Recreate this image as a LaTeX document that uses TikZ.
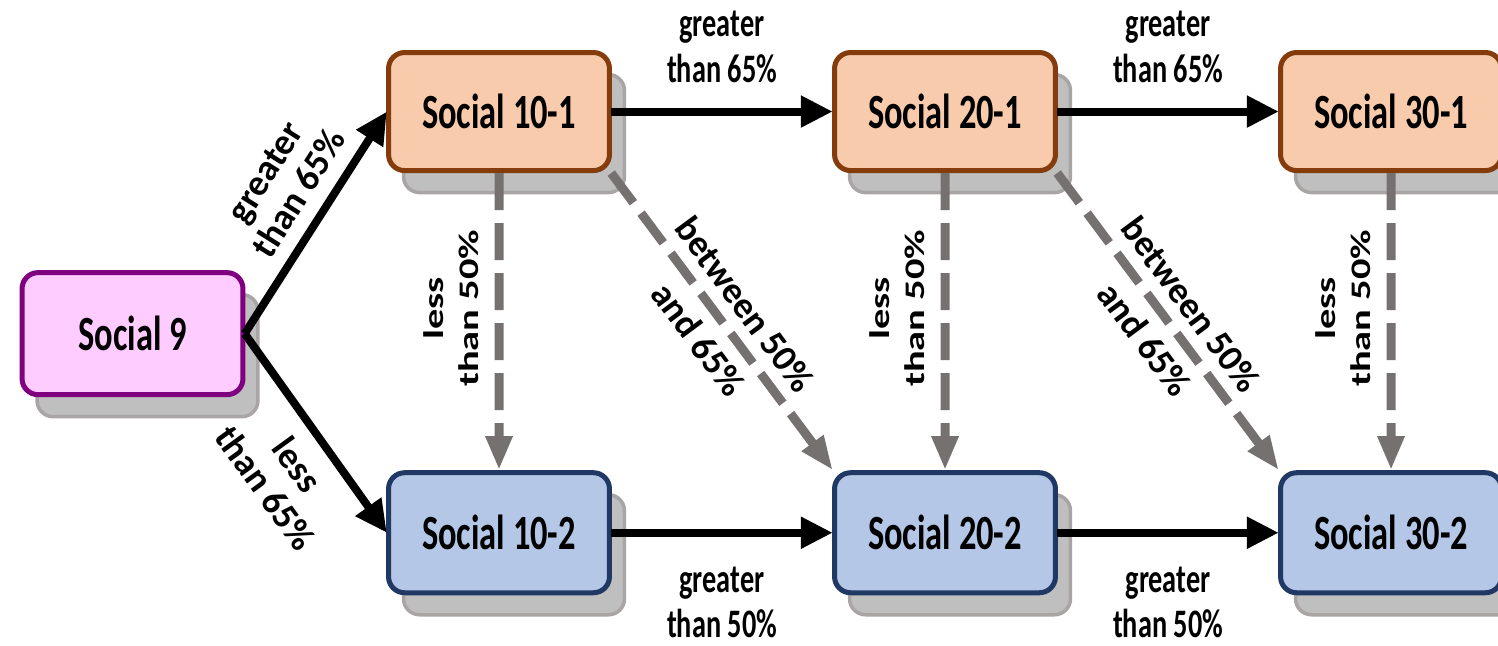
\documentclass[tikz,border=0pt]{standalone}
\usepackage{fontspec}
\setmainfont{Carlito}
\usetikzlibrary{arrows.meta,shadows}
\definecolor{pinkfill}{HTML}{FFCCFF}
\definecolor{pinkline}{HTML}{7F007F}
\definecolor{peachfill}{HTML}{F8CBAD}
\definecolor{peachline}{HTML}{843C0C}
\definecolor{bluefill}{HTML}{B4C7E7}
\definecolor{blueline}{HTML}{1F3864}
\definecolor{shadowfill}{HTML}{BFBFBF}
\definecolor{shadowline}{HTML}{A9A5A5}
\definecolor{dashgray}{HTML}{767171}

\begin{document}
\begin{tikzpicture}[x=0.028571cm, y=-0.02cm, xscale=0.7,
   course/.style={draw, transform shape, rounded corners=0.32cm, line width=0.1cm,
       minimum width=6.31cm, minimum height=2.36cm,
       font=\fontsize{28}{32}\selectfont\bfseries,
       drop shadow={shadow xshift=0.3cm, shadow yshift=-0.44cm,
           fill=shadowfill, draw=shadowline, line width=2pt, opacity=1}},
   lbl/.style={transform shape, text=black, font=\fontsize{23}{26}\selectfont\bfseries,
       align=center, inner sep=1pt},
   sidelbl/.style={lbl, rotate=90, font=\fontsize{23}{28.5}\selectfont\bfseries},
   slantlbl/.style={text=black, font=\fontsize{21}{22.5}\selectfont\bfseries,
       align=center, inner sep=1pt},
   splitlbl/.style={slantlbl, font=\fontsize{21}{33}\selectfont\bfseries},
   flow/.style={line width=0.16cm, -{Triangle[length=0.64cm,width=0.6cm]}},
   fall/.style={dashgray, line width=0.18cm, dash pattern=on 0.74cm off 0.26cm,
       -{Triangle[length=0.68cm,width=0.5cm]}}]

\useasboundingbox (0,0) rectangle (1498,645);

\node[course, fill=pinkfill, draw=pinkline, minimum height=2.44cm] (s9) at (132.5,333.5) {Social 9};
\node[course, fill=peachfill, draw=peachline] (s101) at (499,111.5) {Social 10-1};
\node[course, fill=peachfill, draw=peachline] (s201) at (945,111.5) {Social 20-1};
\node[course, fill=peachfill, draw=peachline] (s301) at (1391,111.5) {Social 30-1};
\node[course, fill=bluefill, draw=blueline, minimum height=2.4cm] (s102) at (499,532.5) {Social 10-2};
\node[course, fill=bluefill, draw=blueline, minimum height=2.4cm] (s202) at (945,532.5) {Social 20-2};
\node[course, fill=bluefill, draw=blueline, minimum height=2.4cm] (s302) at (1391,532.5) {Social 30-2};

\draw[flow] (s9.east) -- node[slantlbl, rotate=57.7, above=7pt, pos=0.56] {greater\\than 65\%} (s101.west);
\draw[flow] (s9.east) -- node[slantlbl, rotate=-54.1, below=8pt, pos=0.56] {less\\than 65\%} (s102.west);

\draw[flow] (s101) -- node[lbl, above=13pt] {greater\\than 65\%} (s201);
\draw[flow] (s201) -- node[lbl, above=13pt] {greater\\than 65\%} (s301);
\draw[flow] (s102) -- node[lbl, below=16pt] {greater\\than 50\%} (s202);
\draw[flow] (s202) -- node[lbl, below=16pt] {greater\\than 50\%} (s302);

\draw[fall] (s101) -- node[sidelbl, above=13pt, pos=0.455] {less\\than 50\%} (s102);
\draw[fall] (s201) -- node[sidelbl, above=13pt, pos=0.455] {less\\than 50\%} (s202);
\draw[fall] (s301) -- node[sidelbl, above=13pt, pos=0.455] {less\\than 50\%} (s302);

\draw[fall] (s101.south east) -- node[splitlbl, rotate=-53.5] {between 50\%\\and 65\%} (s202.north west);
\draw[fall] (s201.south east) -- node[splitlbl, rotate=-53.5] {between 50\%\\and 65\%} (s302.north west);

\end{tikzpicture}
\end{document}
